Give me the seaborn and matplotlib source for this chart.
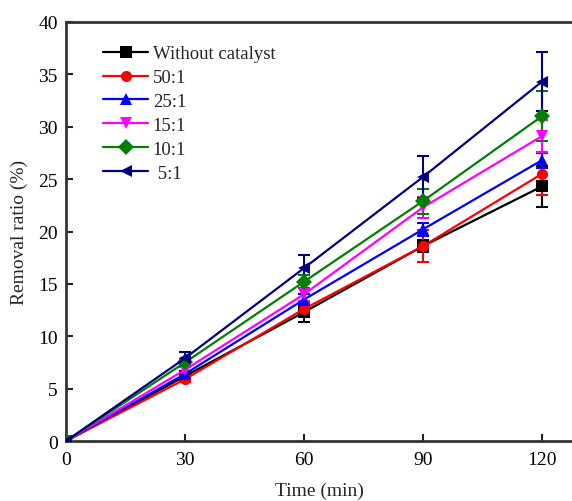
import pandas as pd
import matplotlib
matplotlib.use("Agg")
import matplotlib.pyplot as plt
import seaborn as sns

# Data
times = [0, 30, 60, 90, 120]
samples = ["Without catalyst", "50:1", "25:1", "15:1", "10:1", " 5:1"]

without_catalyst = [0, 6.2, 12.3, 18.6, 24.3]
ratio_50 = [0, 5.9, 12.6, 18.6, 25.5]
ratio_25 = [0, 6.4, 13.5, 20.2, 26.8]
ratio_15 = [0, 6.8, 14.0, 22.3, 29.1]
ratio_10 = [0, 7.5, 15.2, 22.9, 31.0]
ratio_5 = [0, 7.9, 16.5, 25.2, 34.3]

err_without = [0, 0.3, 0.9, 0.6, 2.0]
err_50 = [0, 0.3, 0.6, 1.5, 2.0]
err_25 = [0, 0.3, 0.5, 0.6, 0.7]
err_15 = [0, 0.3, 0.6, 1.0, 1.5]
err_10 = [0, 0.3, 0.6, 1.2, 2.4]
err_5 = [0, 0.6, 1.3, 2.0, 2.8]

values = [without_catalyst, ratio_50, ratio_25, ratio_15, ratio_10, ratio_5]
errors = [err_without, err_50, err_25, err_15, err_10, err_5]

colors = ["black", "red", "blue", "magenta", "#008000", "#000080"]
markers = ["s", "o", "^", "v", "D", "<"]

rows = []
for name, vals, errs in zip(samples, values, errors):
    for t, v, e in zip(times, vals, errs):
        rows.append({"Time": t, "Removal": v, "Err": e, "Sample": name})
df = pd.DataFrame(rows)

sns.set_style("ticks")
plt.rcParams["font.family"] = ["Liberation Serif", "DejaVu Serif"]
plt.rcParams["xtick.direction"] = "in"
plt.rcParams["ytick.direction"] = "in"

fig = plt.figure(figsize=(5.72, 5.02), dpi=100)
ax = fig.add_axes([0.1154, 0.1195, 0.8846, 0.8347])

palette = dict(zip(samples, colors))
marker_map = dict(zip(samples, markers))

# error bars first so lines sit on top
for name, c in zip(samples, colors):
    sub = df[df["Sample"] == name]
    ax.errorbar(sub["Time"], sub["Removal"], yerr=sub["Err"], fmt="none",
                ecolor=c, elinewidth=1.5, capsize=4, capthick=1.5, zorder=2)

sns.lineplot(data=df, x="Time", y="Removal", hue="Sample", style="Sample",
             palette=palette, markers=marker_map, dashes=False,
             hue_order=samples, style_order=samples,
             markersize=8, markeredgewidth=0, linewidth=1.6, ax=ax,
             errorbar=None, zorder=3)

ax.set_xlim(0, 127.6)
ax.set_ylim(0, 40)
ax.set_xticks([0, 30, 60, 90, 120])
ax.set_yticks(range(0, 41, 5))
ax.tick_params(labelsize=14, width=1.5, length=5, colors="#222222",
               labelcolor="black")
ax.tick_params(axis="x", pad=7)
ax.tick_params(axis="y", pad=6)
for side in ["left", "bottom", "top"]:
    ax.spines[side].set_linewidth(2)
    ax.spines[side].set_color("#333333")
ax.spines["right"].set_visible(False)

ax.set_xlabel("Time (min)", fontsize=14, labelpad=10)
ax.set_ylabel("Removal ratio (%)", fontsize=14, labelpad=7)

leg = ax.legend(loc="upper left", bbox_to_anchor=(0.04, 0.985), frameon=False,
                fontsize=13.5, handlelength=2.4, handletextpad=0.25,
                labelspacing=0.36)

fig.savefig("out.png", dpi=100)
